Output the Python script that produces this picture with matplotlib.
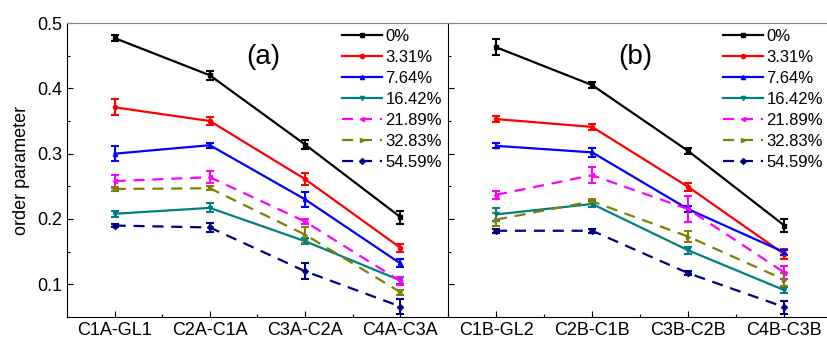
import numpy as np
import matplotlib
matplotlib.use("Agg")
import matplotlib.pyplot as plt
from matplotlib.ticker import MultipleLocator
from matplotlib.lines import Line2D

plt.rcParams['font.family'] = ['Liberation Sans', 'DejaVu Sans']

cats_a = ["C1A-GL1", "C2A-C1A", "C3A-C2A", "C4A-C3A"]
cats_b = ["C1B-GL2", "C2B-C1B", "C3B-C2B", "C4B-C3B"]
labels = ["0%", "3.31%", "7.64%", "16.42%", "21.89%", "32.83%", "54.59%"]
colors = ["black", "#ff0000", "#0000ff", "#008080", "#ff00ff", "#808000", "#000080"]
markers = ["s", "o", "^", "v", "<", ">", "D"]
styles = ["-", "-", "-", "-", "--", "--", "--"]

# panel (a)
a_val = [[0.477, 0.420, 0.314, 0.203],
         [0.371, 0.350, 0.261, 0.156],
         [0.300, 0.313, 0.230, 0.132],
         [0.208, 0.217, 0.166, 0.106],
         [0.258, 0.264, 0.196, 0.105],
         [0.246, 0.247, 0.176, 0.088],
         [0.190, 0.187, 0.120, 0.066]]
a_err = [[0.005, 0.007, 0.007, 0.010],
         [0.012, 0.006, 0.009, 0.006],
         [0.011, 0.004, 0.011, 0.006],
         [0.005, 0.007, 0.005, 0.005],
         [0.010, 0.009, 0.004, 0.006],
         [0.003, 0.003, 0.012, 0.004],
         [0.003, 0.007, 0.012, 0.012]]

# panel (b)
b_val = [[0.463, 0.405, 0.304, 0.190],
         [0.353, 0.341, 0.249, 0.146],
         [0.312, 0.302, 0.215, 0.149],
         [0.207, 0.223, 0.152, 0.091],
         [0.237, 0.267, 0.215, 0.118],
         [0.199, 0.227, 0.173, 0.107],
         [0.182, 0.182, 0.117, 0.065]]
b_err = [[0.012, 0.004, 0.004, 0.010],
         [0.004, 0.005, 0.006, 0.008],
         [0.004, 0.007, 0.005, 0.004],
         [0.010, 0.005, 0.005, 0.005],
         [0.006, 0.012, 0.020, 0.010],
         [0.010, 0.004, 0.008, 0.010],
         [0.003, 0.003, 0.003, 0.010]]

fig = plt.figure(figsize=(8.27, 3.39), dpi=100)
ax1 = fig.add_axes([0.081, 0.065, 0.4607, 0.867])
ax2 = fig.add_axes([0.5417, 0.065, 0.4614, 0.867])

def draw(ax, cats, vals, errs, tag, tx):
    x = np.arange(len(cats))
    handles = []
    for v, e, c, m, s, l in zip(vals, errs, colors, markers, styles, labels):
        dash = (5, 3.5) if s == "--" else (None, None)
        ax.errorbar(x, v, yerr=e, color=c, ls=s, lw=1.6, marker=m, ms=3,
                    capsize=3, capthick=1.5, elinewidth=1.5, dashes=dash)
        handles.append(Line2D([], [], color=c, ls=s, lw=1.6, marker=m, ms=3,
                              dashes=dash, label=l))
    ax.set_xlim(-0.5, 3.5)
    ax.set_ylim(0.05, 0.5)
    ax.set_xticks(x)
    ax.set_xticklabels(cats, fontsize=13)
    ax.xaxis.set_minor_locator(MultipleLocator(0.5))
    ax.yaxis.set_major_locator(MultipleLocator(0.1))
    ax.yaxis.set_minor_locator(MultipleLocator(0.05))
    ax.tick_params(which="both", direction="in", top=False, right=False, labelsize=13)
    ax.tick_params(which="major", length=4, width=0.8)
    ax.tick_params(which="minor", length=2, width=0.8)
    ax.spines["top"].set_color("#888888")
    ax.text(tx, 0.885, tag, transform=ax.transAxes, fontsize=20, ha="center", va="center")
    ax.legend(handles=handles, loc="upper right", frameon=False, fontsize=12,
              handlelength=2.4, labelspacing=0.36, handletextpad=0.2,
              borderaxespad=0.0, borderpad=0.35,
              bbox_to_anchor=(1.0, 1.0) if ax is ax1 else (0.998, 1.0))

draw(ax1, cats_a, a_val, a_err, "(a)", 0.514)
draw(ax2, cats_b, b_val, b_err, "(b)", 0.49)
ax1.spines["right"].set_visible(False)
ax2.spines["right"].set_visible(False)
ax2.tick_params(labelleft=False)
ax2.set_xlim(-0.5, 3.47)
ax1.set_ylabel("order parameter", fontsize=13, labelpad=5)

plt.savefig("out.png", dpi=100)
